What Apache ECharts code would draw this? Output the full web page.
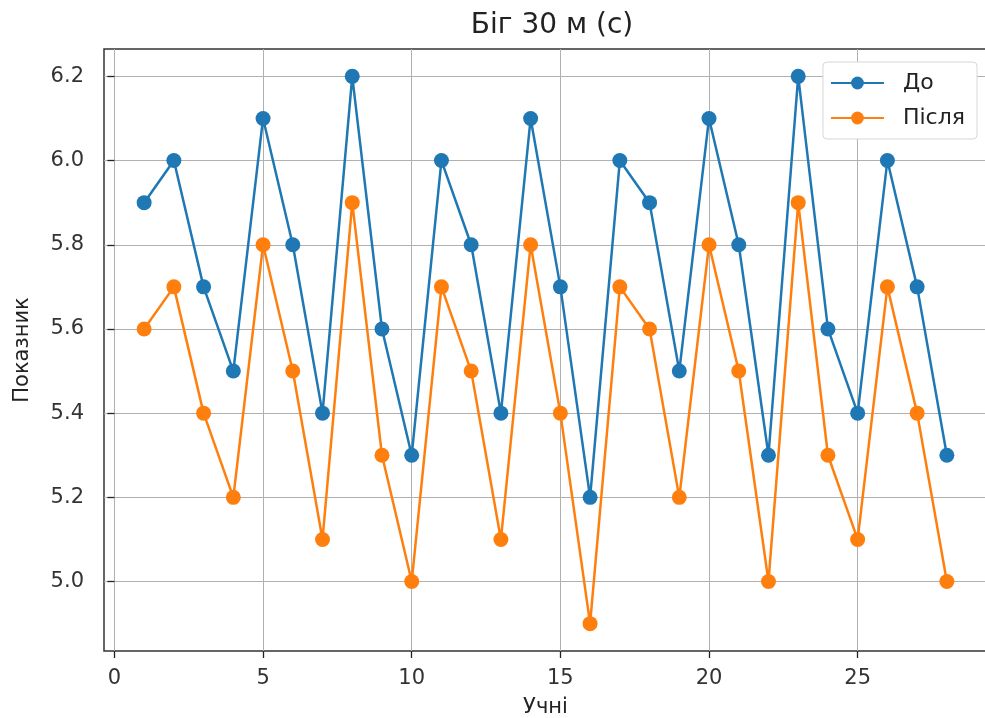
<!DOCTYPE html>
<html lang="uk">
<head>
    <meta charset="utf-8"/>
    <title>Біг 30 м (с)</title>
    <script src="https://cdn.jsdelivr.net/npm/echarts@6/dist/echarts.min.js"></script>
</head>
<body style="margin:0;background:#fff">
<div id="chart" style="width:985px;height:718px"></div>
<script type="text/javascript">
    // учні 1..28
    var pupils = [1,2,3,4,5,6,7,8,9,10,11,12,13,14,15,16,17,18,19,20,21,22,23,24,25,26,27,28];
    var before = [5.9,6.0,5.7,5.5,6.1,5.8,5.4,6.2,5.6,5.3,6.0,5.8,5.4,6.1,5.7,5.2,6.0,5.9,5.5,6.1,5.8,5.3,6.2,5.6,5.4,6.0,5.7,5.3];
    var after = [5.6,5.7,5.4,5.2,5.8,5.5,5.1,5.9,5.3,5.0,5.7,5.5,5.1,5.8,5.4,4.9,5.7,5.6,5.2,5.8,5.5,5.0,5.9,5.3,5.1,5.7,5.4,5.0];
    var xTicks = [0,5,10,15,20,25];
    var yTicks = [5.0,5.2,5.4,5.6,5.8,6.0,6.2];

    function pairs(vals) {
        var out = [];
        for (var i = 0; i < pupils.length; i++) {
            out.push([pupils[i], vals[i]]);
        }
        return out;
    }

    var font = 'DejaVu Sans';
    var myChart = echarts.init(document.getElementById('chart'));
    var option = {
        backgroundColor: '#fff',
        textStyle: {fontFamily: font},
        title: {
            text: 'Біг 30 м (с)',
            left: 547, top: 7, textAlign: 'center',
            textStyle: {fontFamily: font, fontSize: 28, fontWeight: 'normal', color: '#222'}
        },
        grid: {
            left: 104, top: 49, width: 883, height: 602,
            outerBoundsMode: 'none',
            show: true, borderColor: '#333', borderWidth: 1.5, containLabel: false
        },
        legend: {
            data: ['До', 'Після'],
            orient: 'vertical',
            right: 8, top: 62,
            itemWidth: 53, itemHeight: 16, itemGap: 13,
            padding: [10, 12, 10, 7],
            backgroundColor: '#fff',
            borderColor: '#d6d6d6', borderWidth: 1, borderRadius: 4,
            textStyle: {fontFamily: font, fontSize: 22, color: '#222', padding: [0, 0, 0, 14]}
        },
        xAxis: {
            type: 'value',
            min: -0.35, max: 29.35,
            name: 'Учні', nameLocation: 'middle', nameGap: 46,
            nameTextStyle: {fontFamily: font, fontSize: 21, color: '#222'},
            axisLine: {show: false},
            axisTick: {show: true, customValues: xTicks, length: 7, lineStyle: {color: '#222', width: 1.3}},
            axisLabel: {customValues: xTicks, fontSize: 21, color: '#333', margin: 17},
            splitLine: {show: true, lineStyle: {color: '#b0b0b0', width: 1}}
        },
        yAxis: {
            type: 'value',
            min: 4.835, max: 6.265,
            name: 'Показник', nameLocation: 'middle', nameGap: 71, nameRotate: 90,
            nameTextStyle: {fontFamily: font, fontSize: 21, color: '#222'},
            axisLine: {show: false},
            axisTick: {show: true, customValues: yTicks, length: 7, lineStyle: {color: '#222', width: 1.3}},
            axisLabel: {
                customValues: yTicks, fontSize: 21, color: '#333', margin: 20,
                formatter: function (v) { return v.toFixed(1); }
            },
            splitLine: {show: true, lineStyle: {color: '#b0b0b0', width: 1}}
        },
        series: [{
            name: 'До',
            type: 'line',
            data: pairs(before),
            color: '#1f77b4',
            symbol: 'circle', symbolSize: 15,
            lineStyle: {width: 2.5},
            z: 3
        }, {
            name: 'Після',
            type: 'line',
            data: pairs(after),
            color: '#ff7f0e',
            symbol: 'circle', symbolSize: 15,
            lineStyle: {width: 2.5},
            z: 4
        }],
        animation: false
    };
    myChart.setOption(option);
</script>
</body>
</html>
